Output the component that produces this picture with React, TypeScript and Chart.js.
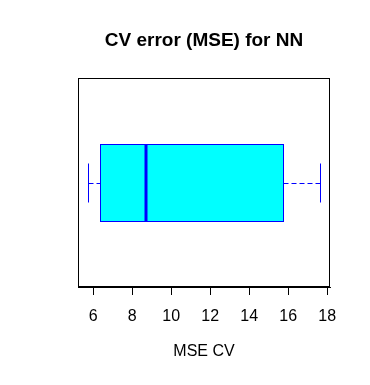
import React, { useEffect, useRef } from "react";
import { Chart, registerables } from "chart.js";

Chart.register(...registerables);

const categories = ["MSE CV"];
const whiskerLow = [5.75];
const quartile1 = [6.33];
const medians = [8.73];
const quartile3 = [15.75];
const whiskerHigh = [17.65];
const xTicks = [6, 8, 10, 12, 14, 16, 18];

const FONT = "'Liberation Sans', Arial, sans-serif";

const boxPlugin = {
  id: "rbox",
  afterDatasetsDraw(chart: any) {
    const { ctx, chartArea, scales } = chart;
    const xs = scales.x;
    const ys = scales.y;
    ctx.save();
    categories.forEach((_c, i) => {
      const pos = i + 1;
      const px = (v: number) => Math.round(xs.getPixelForValue(v)) + 0.5;
      const py = (v: number) => Math.round(ys.getPixelForValue(v)) + 0.5;
      const yc = py(pos);
      const bTop = py(pos + 0.2);
      const bBot = py(pos - 0.2);
      const cTop = py(pos + 0.1);
      const cBot = py(pos - 0.1);
      const lo = px(whiskerLow[i]);
      const q1 = px(quartile1[i]);
      const med = px(medians[i]);
      const q3 = px(quartile3[i]);
      const hi = px(whiskerHigh[i]);
      ctx.strokeStyle = "#0000FF";
      ctx.lineWidth = 1;
      // whiskers (dashed)
      ctx.setLineDash([5, 3]);
      ctx.beginPath();
      ctx.moveTo(lo, yc);
      ctx.lineTo(q1, yc);
      ctx.moveTo(hi, yc);
      ctx.lineTo(q3, yc);
      ctx.stroke();
      ctx.setLineDash([]);
      // caps
      ctx.beginPath();
      ctx.moveTo(lo, cTop);
      ctx.lineTo(lo, cBot);
      ctx.moveTo(hi, cTop);
      ctx.lineTo(hi, cBot);
      ctx.stroke();
      // box
      ctx.fillStyle = "#00FFFF";
      ctx.fillRect(q1, bTop, q3 - q1, bBot - bTop);
      ctx.strokeRect(q1, bTop, q3 - q1, bBot - bTop);
      // median
      ctx.lineWidth = 3;
      ctx.beginPath();
      ctx.moveTo(Math.round(xs.getPixelForValue(medians[i])), bTop);
      ctx.lineTo(Math.round(xs.getPixelForValue(medians[i])), bBot);
      ctx.stroke();
    });
    // frame
    ctx.strokeStyle = "#000";
    ctx.lineWidth = 1;
    ctx.strokeRect(
      chartArea.left + 0.5,
      chartArea.top + 0.5,
      chartArea.right - chartArea.left - 1,
      chartArea.bottom - chartArea.top - 1
    );
    ctx.restore();
  },
};

export default function App() {
  const ref = useRef<HTMLCanvasElement | null>(null);
  useEffect(() => {
    document.body.style.margin = "0";
    if (!ref.current) return;
    const chart = new Chart(ref.current, {
      type: "scatter",
      data: {
        datasets: [
          {
            label: categories[0],
            data: [],
            pointRadius: 0,
          },
        ],
      },
      options: {
        animation: false,
        responsive: false,
        devicePixelRatio: 1,
        layout: { padding: { left: 78, right: 40, top: 0, bottom: 0 } },
        plugins: {
          legend: { display: false },
          tooltip: { enabled: false },
          title: {
            display: true,
            text: "CV error (MSE) for NN",
            color: "#000",
            font: { family: FONT, size: 19, weight: "bold" },
            padding: { top: 29.1, bottom: 26.1 },
          },
        },
        scales: {
          x: {
            type: "linear",
            min: 5.22,
            max: 18.14,
            afterBuildTicks: (s: any) => {
              s.ticks = xTicks.map((v) => ({ value: v }));
            },
            afterFit: (s: any) => {
              s.height = 98;
            },
            grid: {
              display: true,
              drawOnChartArea: false,
              drawTicks: true,
              tickLength: 8,
              color: "#000",
              lineWidth: 1,
            },
            border: { display: true, color: "#000" },
            ticks: {
              color: "#000",
              padding: 12,
              maxRotation: 0,
              font: { family: FONT, size: 16 },
              callback: (v: any) => String(v),
            },
            title: {
              display: true,
              text: categories[0],
              color: "#000",
              font: { family: FONT, size: 16 },
              padding: { top: 0, bottom: 23.4 },
            },
          },
          y: {
            type: "linear",
            min: 0.46,
            max: 1.54,
            display: false,
          },
        },
      },
      plugins: [boxPlugin],
    } as any);
    return () => chart.destroy();
  }, []);
  return (
    <div style={{ width: 370, height: 385, background: "#fff" }}>
      <canvas ref={ref} width={370} height={385} style={{ display: "block", width: 370, height: 385 }} />
    </div>
  );
}
